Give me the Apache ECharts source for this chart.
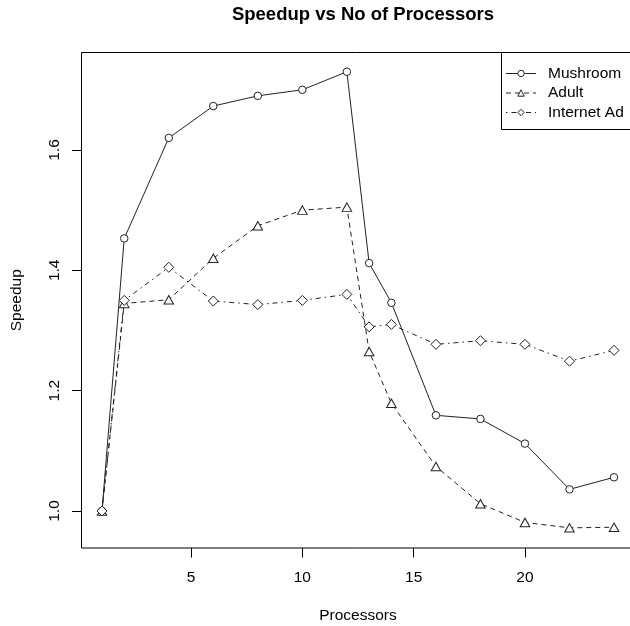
<!DOCTYPE html>
<html>
<head>
<meta charset="utf-8">
<title>Speedup vs No of Processors</title>
<script src="https://cdn.jsdelivr.net/npm/echarts@6/dist/echarts.min.js"></script>
<style>
  html, body { margin: 0; padding: 0; background: #fff; }
  #chart { width: 630px; height: 626px; }
</style>
</head>
<body>
<div id="chart"></div>
<script>
// values
var processors = [1, 2, 4, 6, 8, 10, 12, 13, 14, 16, 18, 20, 22, 24];
var mushroom = [1.0, 1.453, 1.62, 1.673, 1.69, 1.70, 1.73, 1.412, 1.346, 1.159, 1.153, 1.112, 1.036, 1.056];
var adult = [1.0, 1.345, 1.351, 1.42, 1.474, 1.50, 1.505, 1.265, 1.179, 1.074, 1.012, 0.981, 0.972, 0.973];
var internetAd = [1.0, 1.35, 1.405, 1.349, 1.343, 1.35, 1.36, 1.306, 1.31, 1.277, 1.283, 1.277, 1.249, 1.267];
var xTicks = [5, 10, 15, 20];
var yTicks = [1.0, 1.2, 1.4, 1.6];

var FONT = "Liberation Sans, Arial, Helvetica, sans-serif";
var INK = "#222";

function pairs(ys) {
  return processors.map(function (p, i) { return [p, ys[i]]; });
}

function makeSeries(name, ys, symbol, size, dash) {
  return {
    name: name,
    type: "line",
    data: pairs(ys),
    symbol: symbol,
    symbolSize: size,
    showSymbol: true,
    animation: false,
    lineStyle: { color: INK, width: 1, type: dash },
    itemStyle: { color: "#fff", borderColor: INK, borderWidth: 1 },
    emphasis: { disabled: true }
  };
}

var chart = echarts.init(document.getElementById("chart"));

var option = {
  backgroundColor: "#fff",
  animation: false,
  title: {
    text: "Speedup vs No of Processors",
    left: 358,
    top: 0,
    textAlign: "center",
    textStyle: { fontFamily: FONT, fontSize: 18.5, fontWeight: "bold", color: "#000" }
  },
  grid: {
    show: true,
    left: 81.5,
    top: 52.5,
    width: 553,
    height: 495.5,
    outerBoundsMode: "none",
    borderColor: "#000",
    borderWidth: 1,
    backgroundColor: "transparent"
  },
  // legend box runs off the right edge like in the original
  legend: {
    orient: "vertical",
    left: 501.5,
    top: 52.5,
    padding: [13, 30, 9, 4],
    itemWidth: 30,
    itemHeight: 8,
    itemGap: 3.5,
    borderColor: "#000",
    borderWidth: 1,
    backgroundColor: "#fff",
    lineStyle: { width: 1 },
    itemStyle: { borderWidth: 1 },
    textStyle: { fontFamily: FONT, fontSize: 15.5, color: "#000", lineHeight: 14, padding: [0, 0, 0, 7] },
    data: ["Mushroom", "Adult", "Internet Ad"]
  },
  xAxis: {
    type: "value",
    min: 0.08,
    max: 24.92,
    name: "Processors",
    nameLocation: "middle",
    nameGap: 60,
    nameTextStyle: { fontFamily: FONT, fontSize: 15.5, color: "#000" },
    axisLine: { show: false },
    splitLine: { show: false },
    axisTick: { show: true, length: 9.5, customValues: xTicks, lineStyle: { color: "#000" } },
    axisLabel: {
      customValues: xTicks,
      margin: 22,
      fontFamily: FONT,
      fontSize: 15.5,
      color: "#000"
    }
  },
  yAxis: {
    type: "value",
    min: 0.9385,
    max: 1.762,
    name: "Speedup",
    nameLocation: "middle",
    nameGap: 57,
    nameTextStyle: { fontFamily: FONT, fontSize: 15.5, color: "#000" },
    axisLine: { show: false },
    splitLine: { show: false },
    axisTick: { show: true, length: 9.5, customValues: yTicks, lineStyle: { color: "#000" } },
    axisLabel: {
      customValues: yTicks,
      rotate: 90,
      margin: 19,
      fontFamily: FONT,
      fontSize: 15.5,
      color: "#000",
      formatter: function (v) { return v.toFixed(1); }
    }
  },
  series: [
    makeSeries("Mushroom", mushroom, "circle", 7.5, "solid"),
    makeSeries("Adult", adult, "triangle", [9.5, 8.5], [5, 4]),
    makeSeries("Internet Ad", internetAd, "diamond", [10, 10], [1.5, 4, 5, 4])
  ]
};

chart.setOption(option);
</script>
</body>
</html>
